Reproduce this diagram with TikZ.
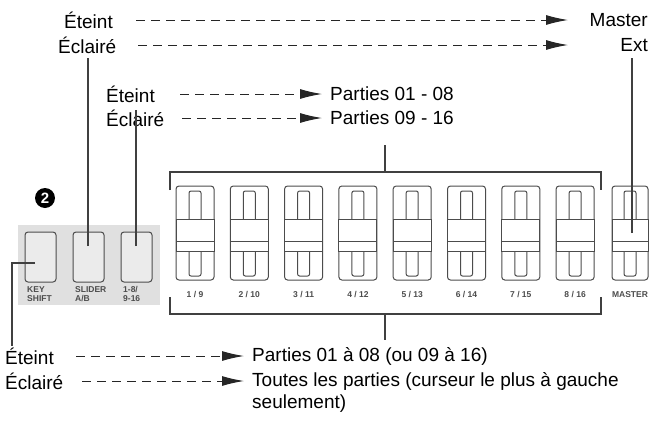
\documentclass[tikz,border=0pt]{standalone}
\usepackage{fontspec}
\setmainfont{Liberation Sans}
\usetikzlibrary{arrows.meta}
\begin{document}
\begin{tikzpicture}[x=1pt,y=-1pt,
  lbl/.style={inner sep=0,anchor=west,font=\fontsize{19}{22}\selectfont},
  da/.style={draw=black!85,line width=1pt,dash pattern=on 9pt off 6pt,-{Latex[length=22pt,width=10pt]}},
  ln/.style={draw=black!75,line width=1.2pt},
  fl/.style={inner sep=0,font=\fontsize{8.5}{9}\selectfont\bfseries,text=black!70,align=center},
  fo/.style={draw=black!70,line width=1pt}]
\useasboundingbox (0,0) rectangle (656,426);
% top labels
\node[lbl] (e1) at (64,20) {Éteint};
\node[lbl] (c1) at (58,45) {Éclairé};
\node[lbl,anchor=east] (m) at (648,20) {Master};
\node[lbl,anchor=east] (x) at (648,45) {Ext};
\coordinate (e1s) at (136,20); \coordinate (c1s) at (138,45);
\coordinate (e1a) at (568,20); \coordinate (c1a) at (568,45);
\draw[da] (e1s) -- (e1a);
\draw[da] (c1s) -- (c1a);
\node[lbl] (e2) at (106,94) {Éteint};
\node[lbl] (c2) at (106,118) {Éclairé};
\node[lbl] (p1) at (330,94) {Parties 01 - 08};
\node[lbl] (p2) at (330,118) {Parties 09 - 16};
\coordinate (e2s) at (180,94); \coordinate (c2s) at (182,118);
\draw[da] (e2s) -- ([xshift=-8pt]p1.west);
\draw[da] (c2s) -- ([xshift=-8pt]p2.west);
% panel
\fill[black!12] (18,225) rectangle (160,305);
\node[circle,fill=black,inner sep=0,minimum size=20pt,text=white,font=\fontsize{15}{15}\selectfont\bfseries] (b2) at (45,198) {2};
\foreach \xx/\t in {25/{KEY\\SHIFT},73/{SLIDER\\A/B},121/{1-8/\\9-16}}{
  \draw[fo,rounded corners=3pt,fill=black!8] (\xx,232) rectangle (\xx+31,282);
  \node[fl,anchor=north west,align=left] at (\xx+2,286) {\t};
}
\coordinate (sb) at (88,246); \coordinate (ob) at (136,246);
\draw[ln] (sb) -- (88,58);
\draw[ln] (ob) -- (136,110);
% left bracket
\draw[ln] (35,263) -- (12,263) -- (12,346);
% faders
\foreach \i/\t in {0/{1 / 9},1/{2 / 10},2/{3 / 11},3/{4 / 12},4/{5 / 13},5/{6 / 14},6/{7 / 15},7/{8 / 16},8/{MASTER}}{
  \pgfmathsetmacro{\cx}{\i<8 ? 195+54.3*\i : 630}
  \pgfmathsetmacro{\hw}{\i<8 ? 19 : 18}
  \draw[fo,rounded corners=3pt] (\cx-\hw,186) rectangle (\cx+\hw,280);
  \draw[fo,rounded corners=2pt] (\cx-6,191) rectangle (\cx+6,276);
  \fill[white] (\cx-\hw,219) rectangle (\cx+\hw,251);
  \draw[fo] (\cx-\hw,219) rectangle (\cx+\hw,251);
  \draw[fo] (\cx-\hw,241) -- (\cx+\hw,241);
  \node[fl] at (\cx,295) {\t};
}
% brackets
\draw[ln] (170,190) -- (170,172) -- (601,172) -- (601,190);
\draw[ln] (170,297) -- (170,314) -- (601,314) -- (601,297);
\draw[ln] (385,172) -- (385,145);
\draw[ln] (385,314) -- (385,340);
\draw[ln] (632,233) -- (632,58);
% bottom
\node[lbl] (e3) at (5,356) {Éteint};
\node[lbl] (c3) at (5,381) {Éclairé};
\node[lbl] (q1) at (252,356) {Parties 01 à 08 (ou 09 à 16)};
\node[lbl] (q2) at (252,381) {Toutes les parties (curseur le plus à gauche};
\node[lbl] (q3) at (252,404) {seulement)};
\coordinate (e3s) at (76,356); \coordinate (c3s) at (82,381);
\draw[da] (e3s) -- ([xshift=-8pt]q1.west);
\draw[da] (c3s) -- ([xshift=-8pt]q2.west);
\end{tikzpicture}
\end{document}
